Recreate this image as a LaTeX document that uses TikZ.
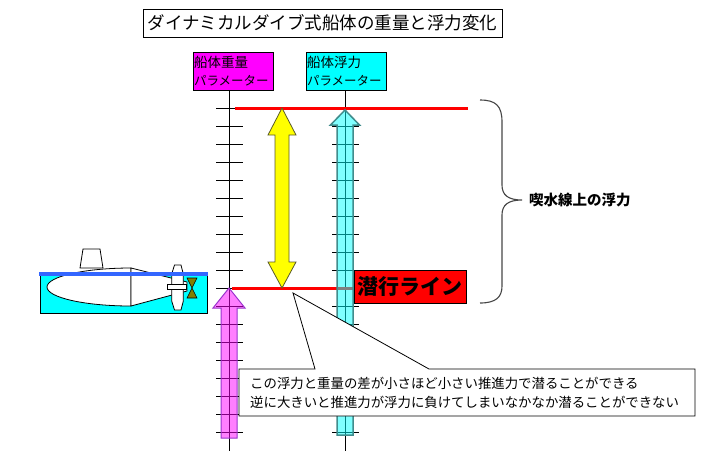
\documentclass[tikz,border=0pt]{standalone}
\usepackage{fontspec}
\setmainfont{Noto Sans CJK JP}
\definecolor{wline}{RGB}{51,102,255}
\definecolor{cyanedge}{RGB}{64,140,140}
\definecolor{pinkedge}{RGB}{153,51,204}
\definecolor{bracegray}{RGB}{70,70,70}
\definecolor{yedge}{RGB}{90,90,40}
\definecolor{aqua}{RGB}{0,255,255}
\definecolor{fuchsia}{RGB}{255,0,255}
\definecolor{pureyellow}{RGB}{255,255,0}
\definecolor{purered}{RGB}{255,0,0}
\definecolor{propolive}{RGB}{128,128,0}
\tikzset{
  outl/.style={draw=black, line width=0.8pt},
  tickline/.style={black, line width=0.9pt},
  redline/.style={purered, line width=3pt},
  parambox/.style={draw=black, line width=0.8pt, text width=78pt, align=left,
    minimum height=38pt, inner sep=1pt, font=\fontsize{12.5}{18}\selectfont},
  calltext/.style={anchor=west, inner sep=0pt, font=\fontsize{13.4}{16}\selectfont},
}
\begin{document}
\begin{tikzpicture}[x=1pt,y=-1pt]
\useasboundingbox (0,0) rectangle (719,451);

% ---------- submarine ----------
\fill[aqua] (40,274) rectangle (207,313);
\draw[outl, fill=white] (131,268) .. controls (84.6,268) and (47,276.5) .. (47,287)
   .. controls (47,297.5) and (84.6,306) .. (131,306) -- cycle;
\draw[outl, fill=white] (131,268) -- (187,282) -- (187,291) -- (131,306) -- cycle;
\draw[outl, fill=white] (80,268) -- (83,249) -- (100,249) -- (103,268) -- cycle;
\draw[outl, fill=white] (174.5,265) -- (181,265) -- (183.3,274) -- (183.3,301)
   -- (181,310) -- (174.5,310) -- (171.7,301) -- (171.7,274) -- cycle;
\draw[outl, fill=white] (167,284.5) rectangle (186.5,289);
\draw[outl, line width=0.6pt, fill=propolive] (187,278) -- (197,278) -- (192,288)
   -- (197,298) -- (187,298) -- (192,288) -- cycle;
\draw[outl] (40,274) -- (40,313) -- (207,313) -- (207,274);
\draw[wline, line width=3.5pt] (39,274) -- (207.5,274);

% ---------- title and labels ----------
\node[draw, line width=0.8pt, minimum width=359pt, minimum height=28pt, inner sep=0pt,
  font=\fontsize{17.5}{20}\selectfont] (title) at (322.5,23)
  {ダイナミカルダイブ式船体の重量と浮力変化};
\node[parambox, fill=fuchsia] (wlabel) at (233,71) {{\fontsize{13.5}{18}\selectfont 船体重量}\\パラメーター};
\node[parambox, fill=aqua] (blabel) at (346,71) {{\fontsize{13.5}{18}\selectfont 船体浮力}\\パラメーター};

% ---------- axes and ticks ----------
\draw[tickline] (wlabel.south -| 229,0) -- (229,451);
\draw[tickline] (blabel.south -| 345,0) -- (345,451);
\foreach \yy in {108,126,...,432} {
  \draw[tickline] (216,\yy) -- (243,\yy);
}
\foreach \yy in {126,144,...,432} {
  \draw[tickline] (332,\yy) -- (359,\yy);
}

% ---------- red lines ----------
\draw[redline] (235,108) -- (468,108);
\draw[redline] (232,288) -- (355,288);

% ---------- arrows ----------
\draw[yedge, line width=0.8pt, fill=pureyellow] (282,108) -- (296,135) -- (289,135) -- (289,262)
  -- (296,262) -- (282,288) -- (268,262) -- (275,262) -- (275,135) -- (268,135) -- cycle;
\draw[cyanedge, line width=1.5pt, fill=aqua, fill opacity=0.5] (345,110) -- (359.5,125)
  -- (353,125) -- (353,435) -- (337,435) -- (337,125) -- (330.5,125) -- cycle;
\draw[pinkedge, line width=1pt, fill=fuchsia, fill opacity=0.5] (229,288) -- (245,308)
  -- (237,308) -- (237,438) -- (221,438) -- (221,308) -- (213,308) -- cycle;

% ---------- dive line label ----------
\node[draw, fill=purered, line width=0.8pt, minimum width=112pt, minimum height=33pt,
  inner sep=0pt, font=\fontsize{21}{24}\selectfont\bfseries] (dive) at (410,286.5) {潜行ライン};

% ---------- brace ----------
\draw[bracegray, line width=1.1pt] (480,100) .. controls (496,100) and (502,106) .. (502,122)
  -- (502,185) .. controls (502,195) and (508,200) .. (522,200)
  .. controls (508,200) and (502,205) .. (502,215)
  -- (502,286) .. controls (502,297) and (496,303) .. (480,303);
\node[anchor=west, inner sep=0pt, font=\fontsize{14.5}{16}\selectfont\bfseries] (brlabel)
  at (529,200) {喫水線上の浮力};

% ---------- callout ----------
\draw[outl, fill=white] (239,369) -- (315,369) -- (293,293) -- (429,369) -- (695,369)
  -- (695,416) -- (239,416) -- cycle;
\node[calltext] (c1) at (250,383) {この浮力と重量の差が小さほど小さい推進力で潜ることができる};
\node[calltext] (c2) at (250,402) {逆に大きいと推進力が浮力に負けてしまいなかなか潜ることができない};
\end{tikzpicture}
\end{document}
